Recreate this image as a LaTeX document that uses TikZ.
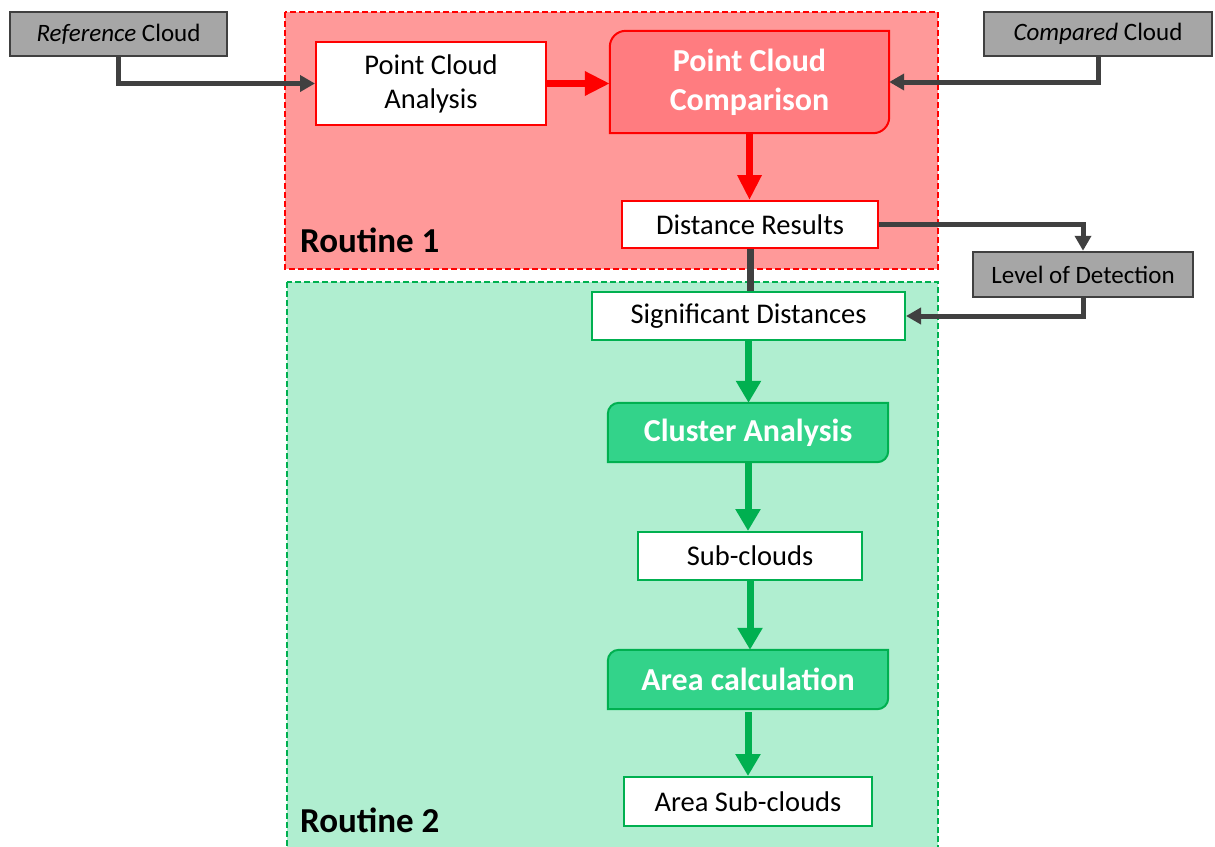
\documentclass[tikz,border=0pt]{standalone}
\usepackage{fontspec}
\setmainfont{Carlito}
\usetikzlibrary{arrows.meta}
\pgfdeclarelayer{bg}\pgfdeclarelayer{mid}\pgfsetlayers{bg,mid,main}
\definecolor{regred}{HTML}{FF9999}
\definecolor{pccfill}{HTML}{FF7C80}
\definecolor{reggreen}{HTML}{B0EED0}
\definecolor{gline}{HTML}{00B050}
\definecolor{cafill}{HTML}{33D38A}
\definecolor{grayfill}{HTML}{A6A6A6}
\definecolor{darkline}{HTML}{404040}
\begin{document}
\begin{tikzpicture}[x=1pt,y=1pt,
  graybox/.style={draw=darkline, fill=grayfill, line width=2.5pt, inner sep=0pt,
    font=\fontsize{25}{30}\selectfont},
  redbox/.style={draw=red, fill=white, line width=2pt, inner sep=0pt, align=center,
    font=\fontsize{28.5}{34}\selectfont},
  greenbox/.style={draw=gline, fill=white, line width=2pt, inner sep=0pt, align=center,
    font=\fontsize{28.5}{34}\selectfont},
  procbox/.style={inner sep=0pt, text=white, align=center,
    font=\bfseries\fontsize{32}{39}\selectfont},
  routinelabel/.style={anchor=base west, inner sep=0pt, font=\bfseries\fontsize{35}{40}\selectfont},
  grayarrow/.style={draw=darkline, line width=5pt, -{Triangle[length=15pt,width=16pt]}},
  grayline/.style={draw=darkline, line width=7pt},
  redarrow/.style={draw=red, line width=7pt, -{Triangle[length=25pt,width=23pt]}},
  greenarrow/.style={draw=gline, line width=7pt, -{Triangle[length=22pt,width=24pt]}},
  regionred/.style={fill=regred, draw=red, line width=1.8pt, dash pattern=on 6pt off 3pt},
  regiongreen/.style={fill=reggreen, draw=gline, line width=1.8pt, dash pattern=on 6pt off 3pt},
]
\useasboundingbox (0,0) rectangle (1215,-846);
\clip (0,0) rectangle (1215,-846);

% regions
\begin{pgfonlayer}{bg}
  \path[regionred] (285,-12) rectangle (938,-269);
  \path[regiongreen] (287,-282) rectangle (938,-880);
\end{pgfonlayer}
\node[routinelabel] (r1) at (300,-252) {Routine 1};
\node[routinelabel] (r2) at (300,-832) {Routine 2};

% nodes
\node[graybox, minimum width=217pt, minimum height=44pt] (ref) at (118.5,-34) {\textit{Reference} Cloud};
\node[graybox, minimum width=228pt, minimum height=44pt] (cmp) at (1098,-34) {\textit{Compared} Cloud};
\node[redbox, minimum width=230pt, minimum height=83pt] (pca) at (431,-83.5) {Point Cloud\\Analysis};
\node[procbox, minimum width=279pt, minimum height=102pt] (pcc) at (749.5,-82) {Point Cloud\\Comparison};
\node[redbox, minimum width=256pt, minimum height=47pt] (dr) at (750,-224.5) {Distance Results};
\node[graybox, minimum width=220pt, minimum height=45pt] (lod) at (1083,-274.5) {Level of Detection};
\node[greenbox, minimum width=313pt, minimum height=48pt] (sd) at (748.5,-316) {Significant Distances};
\node[procbox, minimum width=280pt, minimum height=59pt] (ca) at (748,-432.5) {Cluster Analysis};
\node[greenbox, minimum width=224pt, minimum height=48pt] (sc) at (750,-556) {Sub-clouds};
\node[procbox, minimum width=280pt, minimum height=59pt] (ac) at (748,-679.5) {Area calculation};
\node[greenbox, minimum width=248pt, minimum height=49pt] (asc) at (748,-801.5) {Area Sub-clouds};

% process shapes
\begin{pgfonlayer}{mid}
  \draw[fill=pccfill, draw=red, line width=2pt]
    ([yshift=-16pt]pcc.north west) arc[start angle=180,end angle=90,radius=16pt]
    -- (pcc.north east) -- ([yshift=16pt]pcc.south east)
    arc[start angle=0,end angle=-90,radius=16pt] -- (pcc.south west) -- cycle;
  \foreach \n in {ca,ac}{
    \draw[fill=cafill, draw=gline, line width=2pt]
      ([yshift=-11pt]\n.north west) arc[start angle=180,end angle=90,radius=11pt]
      -- (\n.north east) -- ([yshift=11pt]\n.south east)
      arc[start angle=0,end angle=-90,radius=11pt] -- (\n.south west) -- cycle;
  }
\end{pgfonlayer}

% connectors
\draw[grayarrow] (ref.south) |- (pca.west);
\draw[grayarrow] (cmp.south) |- (pcc.east);
\draw[redarrow] (pca.east) -- (pca.east -| pcc.west);
\draw[redarrow] (pcc.south) -- (pcc.south |- dr.north);
\draw[grayarrow] (dr.east) -| (lod.north);
\draw[grayline] (dr.south) -- (dr.south |- sd.north);
\draw[grayarrow] (lod.south) |- (sd.east);
\draw[greenarrow] (sd.south) -- (sd.south |- ca.north);
\draw[greenarrow] (ca.south) -- (ca.south |- sc.north);
\draw[greenarrow] (sc.south) -- (sc.south |- ac.north);
\draw[greenarrow] ([yshift=-3pt]ac.south) -- (ac.south |- asc.north);
\end{tikzpicture}
\end{document}
